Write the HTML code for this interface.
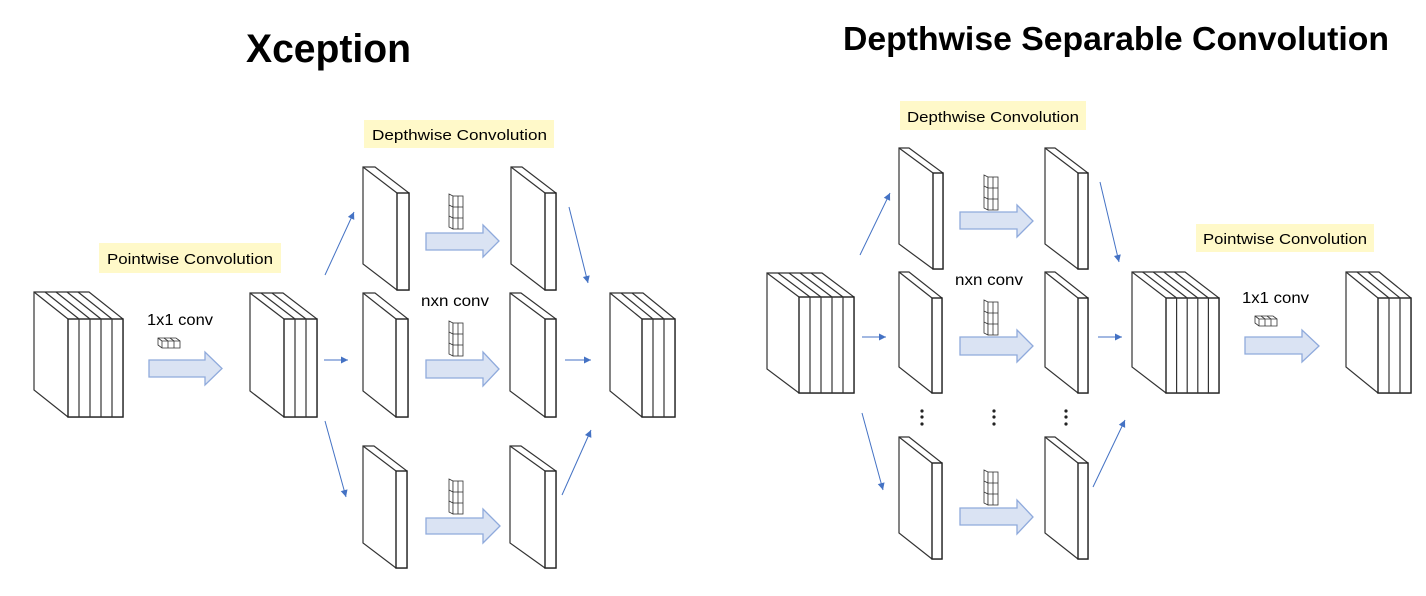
<!DOCTYPE html>
<html><head><meta charset="utf-8"><style>
html,body{margin:0;padding:0;background:#fff;}
svg{display:block;}
text{font-family:"Liberation Sans",sans-serif;}
</style></head><body>
<svg id="s" width="1426" height="596" viewBox="0 0 1426 596" xmlns="http://www.w3.org/2000/svg">
<rect width="1426" height="596" fill="#fff"/>
<text x="246" y="62" font-size="40" font-weight="bold" textLength="165" lengthAdjust="spacingAndGlyphs">Xception</text>
<text x="843" y="50" font-size="33" font-weight="bold" textLength="546" lengthAdjust="spacingAndGlyphs">Depthwise Separable Convolution</text>
<rect x="99" y="243" width="182" height="30" fill="#fff9c9"/>
<text x="107" y="264" font-size="15" textLength="166" lengthAdjust="spacingAndGlyphs">Pointwise Convolution</text>
<rect x="364" y="120" width="190" height="28" fill="#fff9c9"/>
<text x="372" y="140" font-size="15" textLength="175" lengthAdjust="spacingAndGlyphs">Depthwise Convolution</text>
<rect x="900" y="101" width="186" height="29" fill="#fff9c9"/>
<text x="907" y="122" font-size="15" textLength="172" lengthAdjust="spacingAndGlyphs">Depthwise Convolution</text>
<rect x="1196" y="224" width="178" height="28" fill="#fff9c9"/>
<text x="1203" y="244" font-size="15" textLength="164" lengthAdjust="spacingAndGlyphs">Pointwise Convolution</text>
<text x="147" y="325" font-size="16" textLength="66" lengthAdjust="spacingAndGlyphs">1x1 conv</text>
<text x="421" y="306" font-size="16" textLength="68" lengthAdjust="spacingAndGlyphs">nxn conv</text>
<text x="955" y="285" font-size="16" textLength="68" lengthAdjust="spacingAndGlyphs">nxn conv</text>
<text x="1242" y="303" font-size="16" textLength="67" lengthAdjust="spacingAndGlyphs">1x1 conv</text>
<g id="g"></g>
</svg>
<script>
var g=document.getElementById('g'),h='';
function L(a,b,c,d,col,w){h+='<line x1="'+a+'" y1="'+b+'" x2="'+c+'" y2="'+d+'" stroke="'+(col||'#333')+'" stroke-width="'+(w||1.2)+'"/>';}
function stack(fx,fy,sw,n,H,dx,dy){var W=sw*n;
h+='<polygon points="'+(fx-dx)+','+(fy-dy)+' '+(fx+W-dx)+','+(fy-dy)+' '+(fx+W)+','+fy+' '+(fx+W)+','+(fy+H)+' '+fx+','+(fy+H)+' '+(fx-dx)+','+(fy+H-dy)+'" fill="#fff" stroke="#333" stroke-width="1.2"/>';
h+='<rect x="'+fx+'" y="'+fy+'" width="'+W+'" height="'+H+'" fill="#fff" stroke="#222" stroke-width="1.4"/>';
for(var i=0;i<n;i++){L(fx+i*sw,fy,fx+i*sw-dx,fy-dy);if(i>0)L(fx+i*sw,fy,fx+i*sw,fy+H);}}
function fat(x1,x2,hx,sy1,sy2,hy1,hy2){var c=(hy1+hy2)/2;
h+='<polygon points="'+x1+','+sy1+' '+hx+','+sy1+' '+hx+','+hy1+' '+x2+','+c+' '+hx+','+hy2+' '+hx+','+sy2+' '+x1+','+sy2+'" fill="#dae3f3" stroke="#8faadc" stroke-width="1.3"/>';}
function arr(a,b,c,d){L(a,b,c,d,'#4472c4',1);var ang=Math.atan2(d-b,c-a),s=7,w=3.5;
var bx=c-s*Math.cos(ang),by=d-s*Math.sin(ang),px=-Math.sin(ang)*w,py=Math.cos(ang)*w;
h+='<polygon points="'+c+','+d+' '+(bx+px)+','+(by+py)+' '+(bx-px)+','+(by-py)+'" fill="#4472c4"/>';}
function kern(x,y){/* 2-wide x 3-tall small kernel */
h+='<polygon points="'+x+','+y+' '+(x+4)+','+(y+2)+' '+(x+4)+','+(y+35)+' '+x+','+(y+33)+'" fill="#fff" stroke="#333" stroke-width="0.8"/>';
h+='<rect x="'+(x+4)+'" y="'+(y+2)+'" width="10" height="33" fill="#fff" stroke="#333" stroke-width="0.8"/>';
L(x+9,y+2,x+9,y+35,'#333',0.8);for(var k=1;k<3;k++){L(x,y+k*11,x+4,y+2+k*11,'#333',0.8);L(x+4,y+2+k*11,x+14,y+2+k*11,'#333',0.8);}}
function k1(x,y){h+='<polygon points="'+x+','+y+' '+(x+18)+','+y+' '+(x+22)+','+(y+3)+' '+(x+22)+','+(y+10)+' '+(x+4)+','+(y+10)+' '+x+','+(y+7)+'" fill="#fff" stroke="#333" stroke-width="0.8"/>';
for(var k=0;k<3;k++){L(x+4+k*6,y+3,x+4+k*6,y+10,'#333',0.8);L(x+4+k*6,y+3,x+k*6,y,'#333',0.8);}L(x+4,y+3,x+22,y+3,'#333',0.8);}
// Xception
stack(68,319,11,5,98,34,27);
stack(284,319,11,3,98,34,26);
stack(397,193,12,1,97,34,26);stack(545,193,11,1,97,34,26);
stack(396,319,12,1,98,33,26);stack(545,319,11,1,98,35,26);
stack(396,471,11,1,97,33,25);stack(545,471,11,1,97,35,25);
stack(642,319,11,3,98,32,26);
fat(149,222,205,360,377,352,385);
fat(426,499,483,233,250,225,257);
fat(426,499,483,360,378,352,386);
fat(426,500,483,518,534,509,543);
k1(158,338);kern(449,194);kern(449,321);kern(449,479);
arr(325,275,354,212);arr(324,360,348,360);arr(325,421,346,497);
arr(569,207,588,283);arr(565,360,591,360);arr(562,495,591,430);
// DSC
stack(799,297,11,5,96,32,24);
stack(933,173,10,1,96,34,25);stack(1078,173,10,1,96,33,25);
stack(932,298,10,1,95,33,26);stack(1078,298,10,1,95,33,26);
stack(932,463,10,1,96,33,26);stack(1078,463,10,1,96,33,26);
stack(1166,298,10.6,5,95,34,26);
stack(1378,298,11,3,95,32,26);
fat(960,1033,1017,212,229,205,237);
fat(960,1033,1017,337,355,330,362);
fat(960,1033,1017,508,525,500,534);
fat(1245,1319,1302,337,354,330,362);
kern(984,175);kern(984,300);kern(984,470);k1(1255,316);
arr(860,255,890,193);arr(862,337,886,337);arr(862,413,883,490);
arr(1100,182,1119,262);arr(1098,337,1122,337);arr(1093,487,1125,420);
[922,994,1066].forEach(function(x){[411,417,424].forEach(function(y){h+='<circle cx="'+x+'" cy="'+y+'" r="1.6" fill="#222"/>';});});
g.innerHTML=h;
</script>
</body></html>
